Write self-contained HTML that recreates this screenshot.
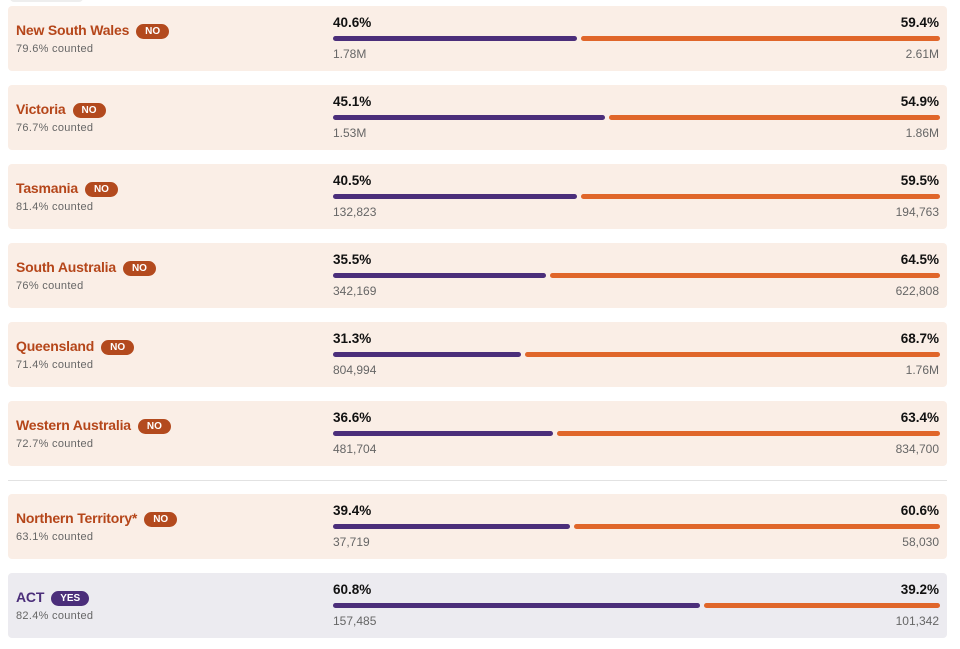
<!DOCTYPE html>
<html><head><meta charset="utf-8">
<style>
body{margin:0;width:960px;height:649px;background:#fff;font-family:"Liberation Sans",sans-serif;position:relative;overflow:hidden}
.card{position:absolute;left:8px;width:939px;height:65px;border-radius:4px;background:#faeee6}
.card.yes{background:#ecebf0}
.name{position:absolute;left:8px;top:16px;font-size:14px;font-weight:bold;color:#b5461a;white-space:nowrap;letter-spacing:-0.2px}
.yes .name{color:#4b2e7a}
.badge{display:inline-block;margin-left:7px;padding:0 9px;height:15px;line-height:15px;border-radius:8px;background:#b34a1e;color:#fff;font-size:10px;font-weight:bold;vertical-align:1px;letter-spacing:0}
.yes .badge{background:#4b2e7a}
.cnt{position:absolute;left:8px;top:37px;font-size:11px;color:#666;letter-spacing:.3px}
.pct{position:absolute;top:9px;font-size:13.5px;font-weight:bold;color:#111}
.num{position:absolute;top:41px;font-size:12px;color:#666}
.bar{position:absolute;top:30px;height:5px;border-radius:2.5px}
</style></head><body>
<div style="position:absolute;left:10px;top:-6px;width:73px;height:8px;border-radius:4px;background:#eeeeee"></div>
<div style="position:absolute;left:8px;top:480px;width:939px;height:1px;background:#e2e2e2"></div>
<div id="root"></div>
<script>
const regions=["New South Wales","Victoria","Tasmania","South Australia","Queensland","Western Australia","Northern Territory*","ACT"];
const counted=["79.6%","76.7%","81.4%","76%","71.4%","72.7%","63.1%","82.4%"];
const yesPct=[40.6,45.1,40.5,35.5,31.3,36.6,39.4,60.8];
const noPct=[59.4,54.9,59.5,64.5,68.7,63.4,60.6,39.2];
const yesVotes=["1.78M","1.53M","132,823","342,169","804,994","481,704","37,719","157,485"];
const noVotes=["2.61M","1.86M","194,763","622,808","1.76M","834,700","58,030","101,342"];
const tops=[6,85,164,243,322,401,494,573];
const X0=325,W=607,GAP=4;
function xs(p){return p/100*W;}
const root=document.getElementById('root');
regions.forEach((r,i)=>{
  const win=yesPct[i]>noPct[i];
  const c=document.createElement('div');
  
  
  c.className='card'+(win?' yes':'');
  c.style.top=tops[i]+'px';
  c.innerHTML=`<div class="name">${r}<span class="badge">${win?'YES':'NO'}</span></div>
<div class="cnt">${counted[i]} counted</div>
<div class="pct" style="left:${X0}px">${yesPct[i].toFixed(1)}%</div>
<div class="pct" style="right:8px">${noPct[i].toFixed(1)}%</div>
<div class="bar" style="left:${X0}px;width:${xs(yesPct[i])-GAP/2}px;background:#4b2e7a"></div>
<div class="bar" style="left:${X0+xs(yesPct[i])+GAP/2}px;width:${xs(noPct[i])-GAP/2}px;background:#e0662a"></div>
<div class="num" style="left:${X0}px">${yesVotes[i]}</div>
<div class="num" style="right:8px">${noVotes[i]}</div>`;
  root.appendChild(c);
});
</script>
</body></html>
